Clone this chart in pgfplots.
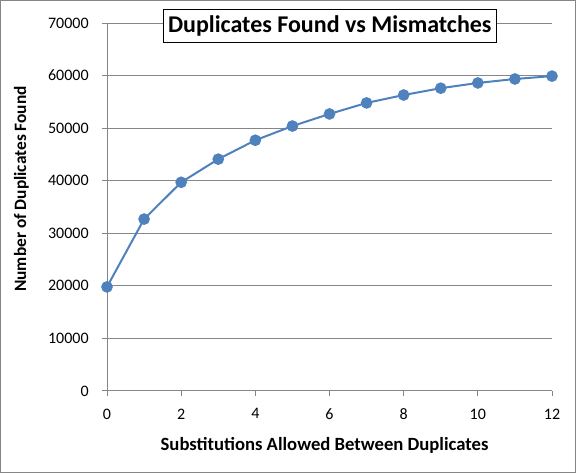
\documentclass[border=0pt]{standalone}
\usepackage{fontspec}
\setmainfont{Carlito}
\usepackage{pgfplots}
\pgfplotsset{compat=1.18}
\definecolor{ser}{HTML}{4F81BD}
\definecolor{gridc}{HTML}{868686}
\begin{document}
\begin{tikzpicture}
\draw[gridc, line width=0.75pt] (0.375pt,-0.375pt) rectangle (431.625pt,-354.375pt);
\begin{axis}[
  at={(80.25pt,-293.25pt)}, anchor=south west,
  scale only axis, width=333.75pt, height=276pt,
  xmin=0, xmax=12, ymin=0, ymax=70000,
  xtick={0,2,...,12}, ytick={0,10000,...,70000},
  axis lines*=left,
  axis line style={gridc, line width=0.75pt},
  tick style={gridc, line width=0.75pt},
  tick align=outside, major tick length=3.75pt,
  ymajorgrids, grid style={gridc, line width=0.75pt},
  scaled y ticks=false,
  /pgf/number format/1000 sep={},
  /pgf/number format/assume math mode=true,
  tick label style={font=\fontsize{12}{14}\selectfont, black},
  xticklabel style={yshift=-6pt},
  yticklabel style={xshift=-6.5pt},
  clip=false,
]
\addplot[ser, line width=1.5pt, mark=*, mark size=3.6pt, mark options={fill=ser, draw=ser}]
coordinates {
(0,19800) (1,32700) (2,39700) (3,44100) (4,47700) (5,50400) (6,52700)
(7,54800) (8,56300) (9,57600) (10,58600) (11,59350) (12,59900)
};
\end{axis}
\node[draw=black, line width=0.75pt, fill=white, font=\bfseries\fontsize{18}{20}\selectfont, inner sep=0pt, minimum width=249.75pt, minimum height=24.75pt] at (247.3pt,-19.35pt) {Duplicates Found vs Mismatches};
\node[font=\bfseries\fontsize{14}{16}\selectfont] at (243.4pt,-334pt) {Substitutions Allowed Between Duplicates};
\node[font=\bfseries\fontsize{13}{15}\selectfont, rotate=90] at (16pt,-141.75pt) {Number of Duplicates Found};
\end{tikzpicture}
\end{document}
